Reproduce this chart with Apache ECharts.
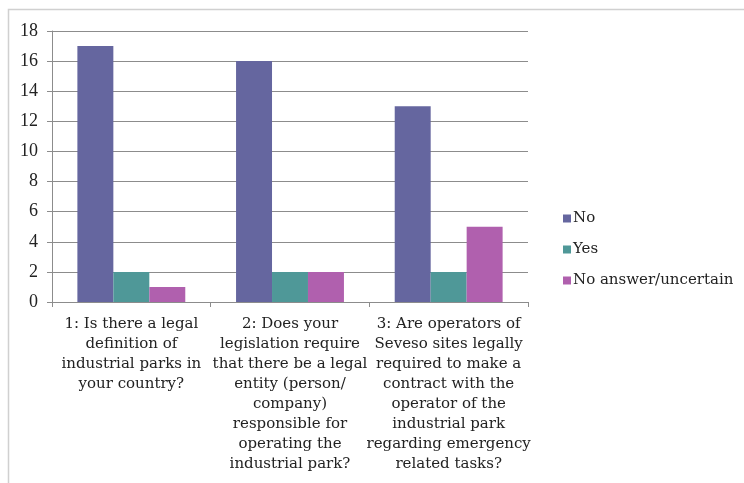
<!DOCTYPE html>
<html><head><meta charset="utf-8">
<script src="https://cdn.jsdelivr.net/npm/echarts@6/dist/echarts.min.js"></script>
<style>html,body{margin:0;padding:0;background:#fff}#c{width:744px;height:483px}</style>
</head><body><div id="c"></div>
<script>
const categories = [
  "1: Is there a legal\ndefinition of\nindustrial parks in\nyour country?",
  "2: Does your\nlegislation require\nthat there be a legal\nentity (person/\ncompany)\nresponsible for\noperating the\nindustrial park?",
  "3: Are operators of\nSeveso sites legally\nrequired to make a\ncontract with the\noperator of the\nindustrial park\nregarding emergency\nrelated tasks?"
];
const seriesNames = ["No", "Yes", "No answer/uncertain"];
const noValues = [17, 16, 13];
const yesValues = [2, 2, 2];
const uncertainValues = [1, 2, 5];
const colors = ["#65669f", "#4f9898", "#b060ae"];
const font = "'Liberation Serif', serif";
const wideFont = "'DejaVu Serif', serif";

const chart = echarts.init(document.getElementById('c'));
chart.setOption({
  animation: false,
  color: colors,
  graphic: [{
    type: 'polyline',
    shape: { points: [[8.5, 483], [8.5, 9.5], [744, 9.5]] },
    style: { stroke: '#d0d0d0', fill: null, lineWidth: 1.5 },
    silent: true
  }],
  grid: { left: 52, right: 216, top: 31, bottom: 181, containLabel: false },
  legend: {
    orient: 'vertical', left: 558, top: 206,
    itemWidth: 8, itemHeight: 8, itemGap: 16,
    icon: 'rect',
    textStyle: { fontFamily: wideFont, fontSize: 15, color: '#222', padding: [0, 0, 0, -3] },
    data: seriesNames
  },
  xAxis: {
    type: 'category', data: categories,
    axisLine: { lineStyle: { color: '#8c8c8c', width: 1 } },
    axisTick: { show: true, length: 5, alignWithLabel: false, lineStyle: { color: '#8c8c8c' } },
    axisLabel: { interval: 0, fontFamily: wideFont, fontSize: 15, color: '#222', lineHeight: 20, margin: 12 }
  },
  yAxis: {
    type: 'value', min: 0, max: 18, interval: 2,
    axisLine: { show: true, lineStyle: { color: '#8c8c8c' } },
    axisTick: { show: true, length: 5, lineStyle: { color: '#8c8c8c' } },
    splitLine: { lineStyle: { color: '#8c8c8c', width: 1 } },
    axisLabel: { fontFamily: font, fontSize: 18, color: '#222', margin: 14 }
  },
  series: [
    { name: seriesNames[0], type: 'bar', data: noValues, barGap: '0%', barCategoryGap: '32%' },
    { name: seriesNames[1], type: 'bar', data: yesValues, barGap: '0%', barCategoryGap: '32%' },
    { name: seriesNames[2], type: 'bar', data: uncertainValues, barGap: '0%', barCategoryGap: '32%' }
  ]
});
</script></body></html>
